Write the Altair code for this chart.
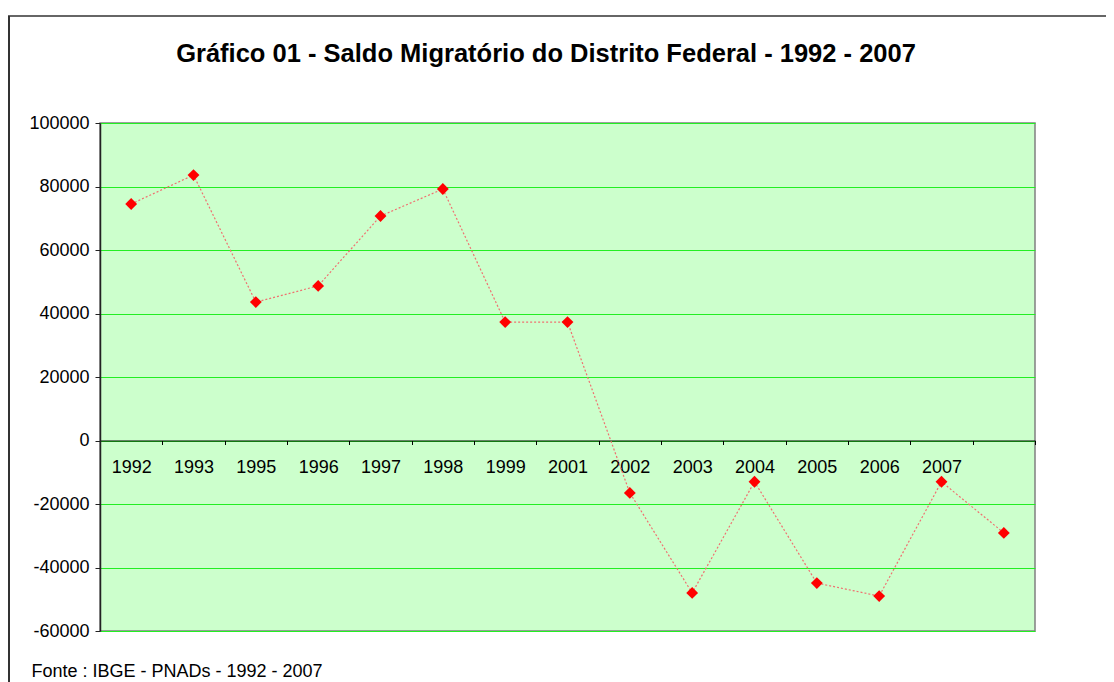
import altair as alt
import pandas as pd

# ---- data ----
years = ["1992", "1993", "1995", "1996", "1997", "1998", "1999", "2001",
         "2002", "2003", "2004", "2005", "2006", "2007", ""]
saldo = [74500, 83600, 43600, 48700, 70700, 79200, 37300, 37300,
         -16500, -48000, -13000, -44900, -49000, -13000, -29100]
y_ticks = [-60000, -40000, -20000, 0, 20000, 40000, 60000, 80000, 100000]
title_text = "Gráfico 01 - Saldo Migratório do Distrito Federal - 1992 - 2007"
source_text = "Fonte : IBGE - PNADs - 1992 - 2007"

df = pd.DataFrame({"ano": years, "saldo": saldo})

FONT = "Liberation Sans, Arial, sans-serif"
W, H = 935, 508
ZERO_FROM_BOTTOM = H * 60000 / 160000  # distance of y=0 from bottom

x_enc = alt.X(
    "ano:O",
    sort=years,
    bandPosition=0.5,
    scale=alt.Scale(type="band", paddingInner=0, paddingOuter=0),
    axis=alt.Axis(
        title=None, orient="bottom", offset=-ZERO_FROM_BOTTOM,
        domainColor="#000000", domainWidth=1,
        tickColor="#000000", tickSize=4, tickWidth=1, tickBand="extent",
        labelAngle=0, labelFontSize=18, labelFont=FONT, labelColor="#000000",
        labelPadding=14, grid=False,
    ),
)
y_enc = alt.Y(
    "saldo:Q",
    scale=alt.Scale(domain=[-60000, 100000], nice=False, zero=False),
    axis=alt.Axis(
        title=None, values=y_ticks, labelExpr="'' + datum.value",
        grid=True, gridColor="#22ee22", gridWidth=1,
        domainColor="#222222", domainWidth=1.5,
        tickColor="#222222", tickSize=5,
        labelFontSize=18, labelFont=FONT, labelColor="#000000", labelPadding=6,
    ),
)

base = alt.Chart(df)
line = base.mark_line(color="#f07070", strokeWidth=1.2, strokeDash=[2, 2]).encode(x=x_enc, y=y_enc)
points = base.mark_point(shape="diamond", filled=True, color="#ff0000", size=140, opacity=1).encode(x=x_enc, y=y_enc)

one = alt.Data(values=[{"k": 1}])
title_mark = alt.Chart(one).mark_text(
    text=title_text, font=FONT, fontSize=25.5, fontWeight="bold", color="#000000",
    align="center", baseline="alphabetic",
).encode(x=alt.value(446), y=alt.value(-61.5))
source_mark = alt.Chart(one).mark_text(
    text=source_text, font=FONT, fontSize=18, color="#000000",
    align="left", baseline="alphabetic",
).encode(x=alt.value(-68.5), y=alt.value(554))
frame_left = alt.Chart(one).mark_rule(color="#333333", strokeWidth=2).encode(
    x=alt.value(-91), y=alt.value(-107), y2=alt.value(570))
frame_top = alt.Chart(one).mark_rule(color="#333333", strokeWidth=1.5).encode(
    x=alt.value(-92), x2=alt.value(1020), y=alt.value(-107))

chart = alt.layer(line, points, title_mark, source_mark, frame_left, frame_top).properties(
    width=W, height=H,
    autosize=alt.AutoSizeParams(type="none"),
    padding={"left": 92, "top": 115, "right": 71, "bottom": 51},
    background="#ffffff",
).configure_view(
    fill="#ccffcc", stroke="#808080", strokeWidth=1.5,
)

chart.save("out.html", embed_options={"renderer": "svg", "actions": False})
